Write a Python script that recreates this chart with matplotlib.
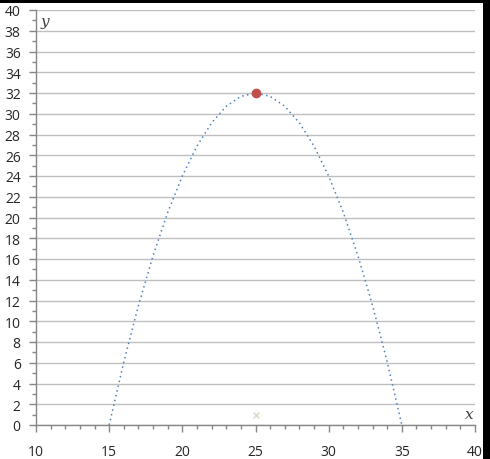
import matplotlib
matplotlib.use('Agg')
import matplotlib.pyplot as plt
from matplotlib.patches import Rectangle
from matplotlib.ticker import MultipleLocator

curve_x = [15, 16, 17, 18, 19, 20, 21, 22, 23, 24, 25,
           26, 27, 28, 29, 30, 31, 32, 33, 34, 35]
curve_y = [0, 6.08, 11.52, 16.32, 20.48, 24, 26.88, 29.12, 30.72, 31.68, 32,
           31.68, 30.72, 29.12, 26.88, 24, 20.48, 16.32, 11.52, 6.08, 0]
vertex_x = [25]
vertex_y = [32]
cross_x = [25]
cross_y = [1]

fig = plt.figure(figsize=(4.9, 4.6), dpi=100)
fig.patch.set_facecolor('white')
# thin black border on top and right, like the screenshot
fig.patches.append(Rectangle((0, 1 - 4 / 460), 1, 4 / 460, transform=fig.transFigure,
                             facecolor='black', edgecolor='none'))
fig.patches.append(Rectangle((1 - 7 / 490, 0), 7 / 490, 1, transform=fig.transFigure,
                             facecolor='black', edgecolor='none'))

ax = fig.add_axes([36 / 490, 1 - 426 / 460, 439 / 490, 415 / 460])
ax.set_facecolor('none')

ax.plot(curve_x, curve_y, linestyle=(0, (1, 2.2)), color='#4F81BD', linewidth=1.1, zorder=3)
ax.plot(vertex_x, vertex_y, 'o', color='#C0504D', markersize=6, zorder=4)
ax.plot(cross_x, cross_y, 'x', color='#D5DCC4', markersize=5, markeredgewidth=1, zorder=4)

ax.set_xlim(10, 40)
ax.set_ylim(0, 40)
ax.xaxis.set_major_locator(MultipleLocator(5))
ax.xaxis.set_minor_locator(MultipleLocator(1))
ax.yaxis.set_major_locator(MultipleLocator(2))
ax.yaxis.set_minor_locator(MultipleLocator(1))

ax.grid(True, axis='y', which='major', color='#BFBFBF', linewidth=1.0)
ax.set_axisbelow(True)

for s in ['top', 'right']:
    ax.spines[s].set_visible(False)
for s in ['left', 'bottom']:
    ax.spines[s].set_color('#868686')
    ax.spines[s].set_linewidth(1.0)

ax.tick_params(axis='both', which='major', direction='out', length=5, width=1,
               color='#868686', labelsize=10, labelcolor='#262626')
ax.tick_params(axis='both', which='minor', direction='out', length=3, width=1,
               color='#868686')
ax.tick_params(axis='x', which='major', pad=9)
ax.tick_params(axis='y', which='major', pad=6)
for lbl in ax.get_xticklabels() + ax.get_yticklabels():
    lbl.set_fontfamily('Open Sans')

ax.text(10.3, 39.6, 'y', fontsize=11, style='italic', family='DejaVu Serif',
        color='#404040', ha='left', va='top')
ax.text(39.9, 0.4, 'x', fontsize=11, style='italic', family='DejaVu Serif',
        color='#404040', ha='right', va='bottom')

fig.savefig('out.png', dpi=100, facecolor=fig.get_facecolor())
